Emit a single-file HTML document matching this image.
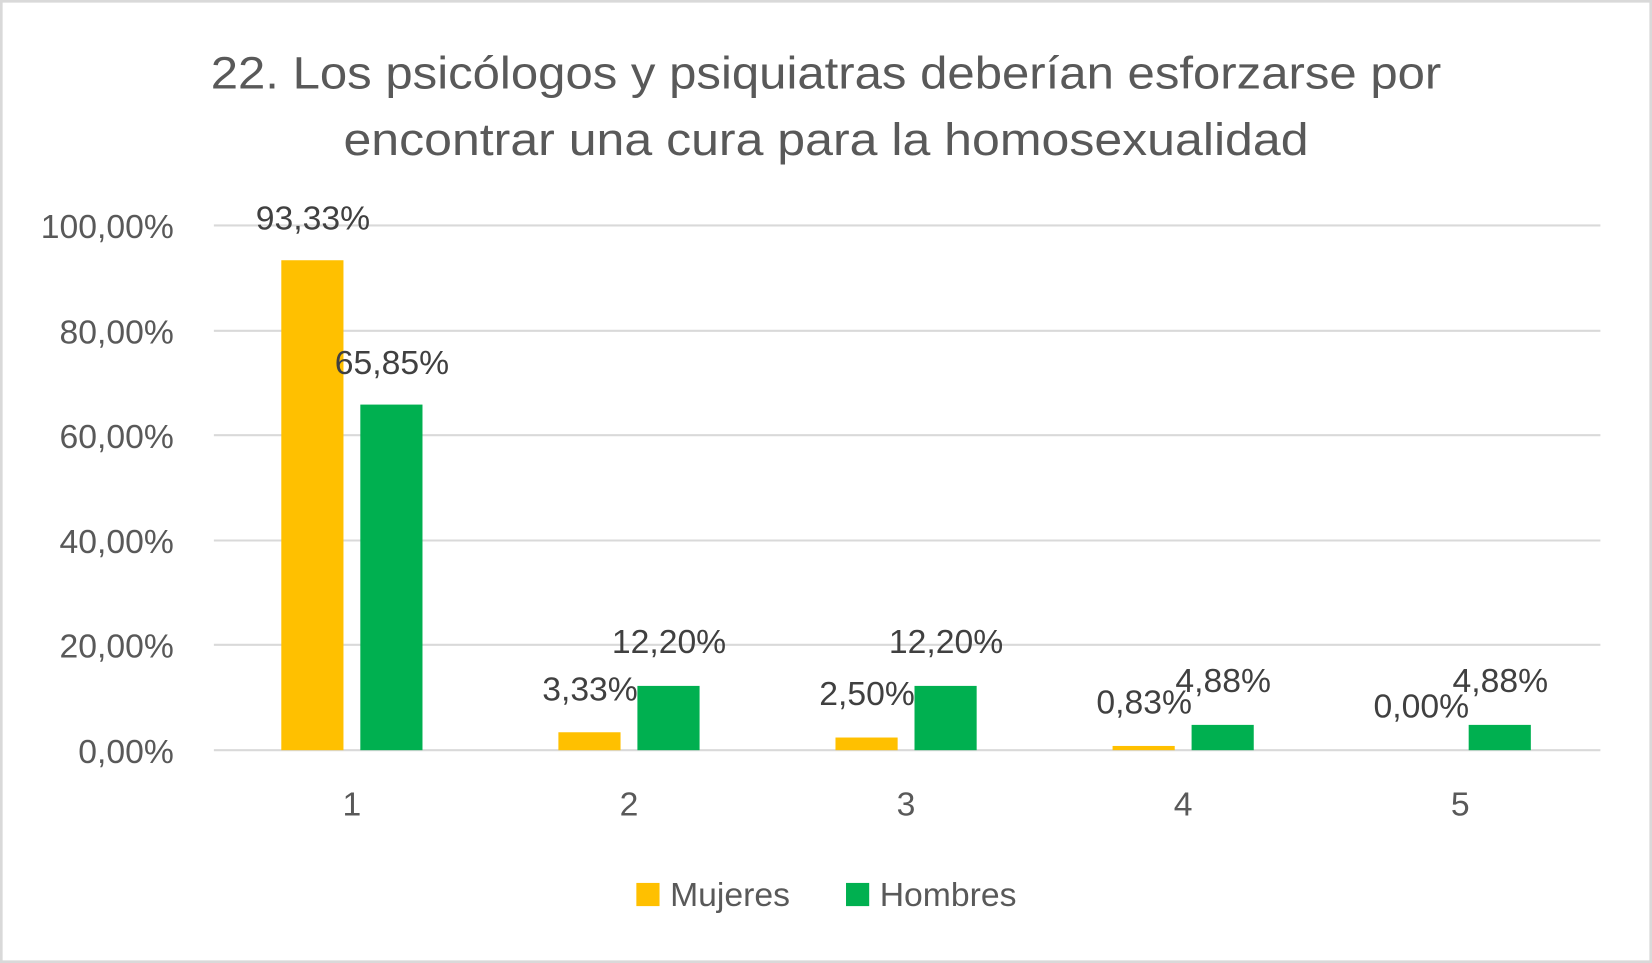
<!DOCTYPE html>
<html><head><meta charset="utf-8"><style>html,body{margin:0;padding:0;background:#fff}svg{display:block}</style></head><body>
<svg width="1652" height="963" viewBox="0 0 1568 914" preserveAspectRatio="none" xmlns="http://www.w3.org/2000/svg" font-family="'Liberation Sans', sans-serif">
<rect x="1" y="1" width="1566" height="912" fill="#fff" stroke="#d9d9d9" stroke-width="3"/>
<g fill="#595959" font-size="43" text-anchor="middle">
<text x="784" y="84" textLength="1168" lengthAdjust="spacingAndGlyphs">22. Los psicólogos y psiquiatras deberían esforzarse por</text>
<text x="784" y="147" textLength="916" lengthAdjust="spacingAndGlyphs">encontrar una cura para la homosexualidad</text>
</g>
<g stroke="#d9d9d9" stroke-width="2">
<line x1="203" x2="1519" y1="214" y2="214"/><line x1="203" x2="1519" y1="314" y2="314"/>
<line x1="203" x2="1519" y1="413" y2="413"/><line x1="203" x2="1519" y1="513" y2="513"/>
<line x1="203" x2="1519" y1="612" y2="612"/><line x1="203" x2="1519" y1="712" y2="712"/>
</g>
<g fill="#595959" font-size="32" text-anchor="end">
<text x="165" y="226">100,00%</text><text x="165" y="326">80,00%</text><text x="165" y="425">60,00%</text>
<text x="165" y="525">40,00%</text><text x="165" y="624">20,00%</text><text x="165" y="724">0,00%</text>
</g>
<g fill="#595959" font-size="32" text-anchor="middle">
<text x="334" y="774">1</text><text x="597" y="774">2</text><text x="860" y="774">3</text><text x="1123" y="774">4</text><text x="1386" y="774">5</text>
</g>
<g fill="#ffc000">
<rect x="267" y="247" width="59" height="465"/>
<rect x="530" y="695" width="59" height="17"/>
<rect x="793" y="700" width="59" height="12"/>
<rect x="1056" y="708" width="59" height="4"/>
</g>
<g fill="#00b050">
<rect x="342" y="384" width="59" height="328"/>
<rect x="605" y="651" width="59" height="61"/>
<rect x="868" y="651" width="59" height="61"/>
<rect x="1131" y="688" width="59" height="24"/>
<rect x="1394" y="688" width="59" height="24"/>
</g>
<g fill="#404040" font-size="32" text-anchor="middle">
<text x="297" y="218">93,33%</text><text x="372" y="355">65,85%</text>
<text x="560" y="665">3,33%</text><text x="635" y="620">12,20%</text>
<text x="823" y="669">2,50%</text><text x="898" y="620">12,20%</text>
<text x="1086" y="677">0,83%</text><text x="1161" y="657">4,88%</text>
<text x="1349" y="681">0,00%</text><text x="1424" y="657">4,88%</text>
</g>
<rect x="604" y="838" width="22" height="22" fill="#ffc000"/>
<text x="636" y="860" fill="#595959" font-size="32">Mujeres</text>
<rect x="803" y="838" width="22" height="22" fill="#00b050"/>
<text x="835" y="860" fill="#595959" font-size="32">Hombres</text>
</svg>
</body></html>
